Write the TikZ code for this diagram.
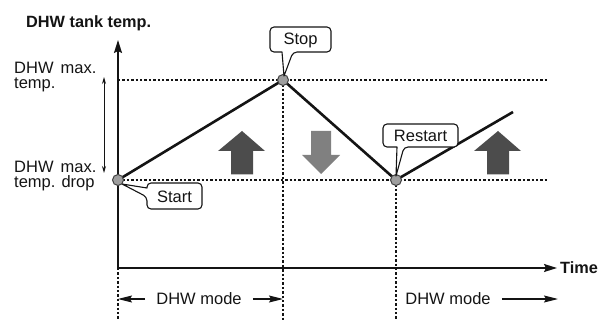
\documentclass[tikz,border=0pt]{standalone}
\usepackage{fontspec}
\setmainfont{Liberation Sans}
\usetikzlibrary{arrows.meta}

\definecolor{cInk}{gray}{0.08}
\definecolor{cUp}{gray}{0.30}
\definecolor{cDown}{gray}{0.50}
\definecolor{cDot}{gray}{0.62}

\tikzset{
  lbl/.style={font=\fontsize{16.5}{15}\selectfont, text=cInk, inner sep=0pt},
  hdr/.style={font=\fontsize{16.3}{17}\selectfont\bfseries, text=cInk, inner sep=0pt},
  axis/.style={cInk, line width=1.6pt, -{Stealth[length=13pt, width=8pt, inset=2pt]}},
  guide/.style={cInk, line width=1.1pt, dash pattern=on 2.4pt off 2pt},
  curve/.style={cInk, line width=2.6pt, line join=miter},
  dot/.style={circle, draw=cInk!80, fill=cDot, line width=1pt, minimum size=11pt, inner sep=0pt},
  bubble/.style={draw=cInk, fill=white, line width=1.1pt, line join=round},
  modearrow/.style={cInk, line width=1.2pt, -{Stealth[length=14pt, width=7pt, inset=2pt]}},
}

\begin{document}
\begin{tikzpicture}[x=1pt, y=-1pt]

\useasboundingbox (0,0) rectangle (599,320);

% ── Key points ──
\coordinate (O) at (118,268);
\coordinate (yTop) at (118,40);
\coordinate (xEnd) at (557,268);
\coordinate (pStart) at (118,180);
\coordinate (pStop) at (283,80);
\coordinate (pRestart) at (396,180);
\coordinate (pEnd) at (513,112);

% ── Guide lines ──
\draw[guide] (pStop -| O) -- (548,80);
\draw[guide] (pStart) -- (548,180);
\draw[guide] (pStop) -- (283,320);
\draw[guide] (pRestart) -- (396,320);
\draw[guide] (O) -- (118,320);

% ── Axes ──
\draw[axis] (O) -- (yTop);
\draw[axis] (O) -- (xEnd);
\node[hdr, anchor=base west] (yLabel) at (26,28) {DHW tank temp.};
\node[hdr, anchor=west] (xLabel) at (560,268) {Time};

% ── Level labels ──
\node[lbl, anchor=north west, align=left] (lblMax) at (14,62) {DHW\hspace{7pt}max.\\temp.};
\node[lbl, anchor=north west, align=left] (lblDrop) at (14,161) {DHW\hspace{7pt}max.\\temp. drop};
\coordinate (rTop) at (104,77);
\coordinate (rBot) at (104,173);
\draw[cInk, line width=0.9pt, {Stealth[length=7pt, width=4pt]}-{Stealth[length=7pt, width=4pt]}] (rTop) -- (rBot);

% ── Heating / cooling arrows ──
\foreach \ax in {242,498}
  \fill[cUp] (\ax-11,174.5) -- (\ax-11,151) -- (\ax-24,151) -- (\ax,131)
    -- (\ax+23,151) -- (\ax+11,151) -- (\ax+11,174.5) -- cycle;
\fill[cDown] (311,131) -- (331,131) -- (331,155) -- (340,155) -- (321,174)
  -- (302,155) -- (311,155) -- cycle;

% ── Temperature curve ──
\draw[curve] (pStart) -- (pStop) -- (pRestart) -- (pEnd);
\node[dot] (ptStart) at (pStart) {};
\node[dot] (ptStop) at (pStop) {};
\node[dot] (ptRestart) at (pRestart) {};

% ── Callouts ──
\draw[bubble] (122,184) -- (147,188) [rounded corners=4pt] -- (147,183) -- (202,183)
  -- (202,209) -- (147,209) -- (147,197) [sharp corners] -- cycle;
\node[lbl] (txtStart) at (174.5,196.5) {Start};

\draw[bubble] (284,76) -- (282,52) [rounded corners=4pt] -- (270,52) -- (270,27)
  -- (331,27) -- (331,52) -- (293,52) [sharp corners] -- cycle;
\node[lbl] (txtStop) at (300.5,40) {Stop};

\draw[bubble] (396,176) -- (397,147) [rounded corners=4pt] -- (383,147) -- (383,124)
  -- (458,124) -- (458,147) -- (404,147) [sharp corners] -- cycle;
\node[lbl] (txtRestart) at (420.5,136) {Restart};

% ── Mode spans ──
\node[lbl, inner xsep=11pt] (modeA) at (199,299) {DHW mode};
\node[lbl, inner xsep=11pt] (modeB) at (448,299) {DHW mode};
\coordinate (mA1) at (118,299);
\coordinate (mA2) at (283,299);
\coordinate (mB2) at (558,299);
\draw[modearrow] (modeA.west) -- (mA1);
\draw[modearrow] (modeA.east) -- (mA2);
\draw[modearrow] (modeB.east) -- (mB2);

\end{tikzpicture}
\end{document}
